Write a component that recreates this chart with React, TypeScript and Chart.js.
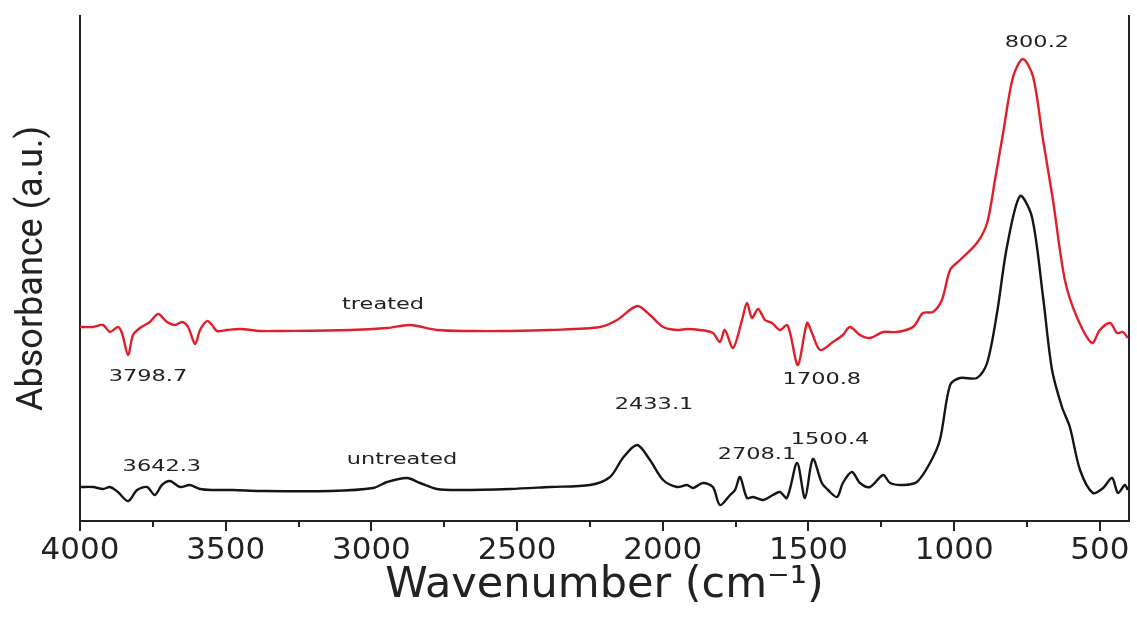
import React, { useEffect, useRef } from 'react';
import { Chart, registerables } from 'chart.js';

Chart.register(...registerables);

// Treated spectrum (red)
const treatedWavenumber = [
  4000, 3955, 3921, 3897, 3870, 3856, 3835, 3818, 3794, 3760, 3732, 3701, 3674, 3650, 3629, 3605, 3588, 3564,
  3547, 3530, 3496, 3451, 3382, 3314, 3073, 2946, 2867, 2775, 2662, 2524, 2387, 2215, 2157, 2088, 2044, 1999,
  1951, 1917, 1872, 1828, 1804, 1787, 1759, 1728, 1711, 1694, 1673, 1649, 1625, 1598, 1574, 1563, 1536, 1505,
  1488, 1460, 1416, 1382, 1358, 1323, 1289, 1244, 1196, 1141, 1107, 1073, 1042, 1014, 980, 922, 887, 860, 832,
  798, 764, 729, 695, 661, 620, 579, 527, 500, 465, 441, 421, 404,
];
const treatedAbsorbance = [
  0.388, 0.388, 0.392, 0.378, 0.388, 0.376, 0.332, 0.372, 0.386, 0.398, 0.414, 0.398, 0.392, 0.398, 0.388, 0.354, 0.382, 0.4,
  0.392, 0.38, 0.382, 0.384, 0.38, 0.38, 0.382, 0.386, 0.392, 0.382, 0.38, 0.38, 0.382, 0.388, 0.402, 0.43, 0.412, 0.388,
  0.382, 0.384, 0.382, 0.376, 0.358, 0.382, 0.346, 0.402, 0.436, 0.406, 0.424, 0.402, 0.396, 0.382, 0.392, 0.376, 0.312, 0.396,
  0.376, 0.342, 0.358, 0.372, 0.388, 0.372, 0.366, 0.378, 0.378, 0.388, 0.416, 0.418, 0.442, 0.502, 0.522, 0.556, 0.596, 0.682, 0.776,
  0.888, 0.924, 0.888, 0.762, 0.642, 0.482, 0.408, 0.356, 0.382, 0.396, 0.376, 0.378, 0.366,
];

// Untreated spectrum (black)
const untreatedWavenumber = [
  4000, 3955, 3921, 3897, 3870, 3835, 3804, 3770, 3743, 3719, 3691, 3657, 3623, 3588, 3544, 3475, 3382, 3140,
  2994, 2946, 2878, 2833, 2775, 2696, 2524, 2387, 2250, 2181, 2137, 2088, 2044, 1999, 1951, 1917, 1896, 1862,
  1828, 1804, 1769, 1752, 1735, 1711, 1690, 1656, 1622, 1598, 1574, 1539, 1512, 1485, 1454, 1433, 1402, 1382,
  1351, 1323, 1289, 1244, 1220, 1176, 1128, 1083, 1049, 1014, 980, 922, 887, 853, 819, 774, 733, 695, 664, 630,
  603, 568, 524, 489, 458, 438, 414, 404,
];
const untreatedAbsorbance = [
  0.068, 0.068, 0.064, 0.068, 0.058, 0.04, 0.062, 0.068, 0.052, 0.072, 0.08, 0.068, 0.072, 0.064, 0.062, 0.062, 0.06, 0.06,
  0.066, 0.078, 0.086, 0.076, 0.064, 0.062, 0.064, 0.068, 0.072, 0.088, 0.126, 0.152, 0.122, 0.082, 0.068, 0.072, 0.066, 0.076,
  0.068, 0.032, 0.052, 0.062, 0.088, 0.046, 0.048, 0.042, 0.052, 0.058, 0.046, 0.116, 0.046, 0.124, 0.076, 0.062, 0.048, 0.076,
  0.098, 0.076, 0.068, 0.092, 0.076, 0.072, 0.078, 0.116, 0.162, 0.272, 0.286, 0.286, 0.316, 0.416, 0.548, 0.65, 0.608, 0.448, 0.302, 0.228,
  0.188, 0.102, 0.056, 0.066, 0.086, 0.056, 0.072, 0.062,
];

// Axis ticks
const majorTicks = [4000, 3500, 3000, 2500, 2000, 1500, 1000, 500];
const minorTicks = [3750, 3250, 2750, 2250, 1750, 1250, 750];

// Peak annotations
const noteTexts = ['800.2', 'treated', '3798.7', '3642.3', 'untreated', '2433.1', '1700.8', '2708.1', '1500.4'];
const noteWavenumber = [716, 2960, 3767, 3719, 2895, 2030, 1454, 1677, 1426];
const noteAbsorbance = [0.956, 0.432, 0.288, 0.108, 0.122, 0.232, 0.282, 0.132, 0.162];

export default function App() {
  const ref = useRef<HTMLCanvasElement>(null);

  useEffect(() => {
    document.body.style.margin = '0';
    const canvas = ref.current;
    if (!canvas) return;

    const notesPlugin = {
      id: 'peakNotes',
      afterDatasetsDraw(chart: any) {
        const { ctx, scales } = chart;
        ctx.save();
        ctx.fillStyle = '#222';
        ctx.font = '16.5px "DejaVu Sans"';
        ctx.textAlign = 'center';
        ctx.textBaseline = 'middle';
        noteTexts.forEach((t, i) => {
          const px = scales.x.getPixelForValue(noteWavenumber[i]);
          const py = scales.y.getPixelForValue(noteAbsorbance[i]);
          ctx.save();
          ctx.translate(px, py);
          ctx.scale(1.36, 1);
          ctx.fillText(t, 0, 0);
          ctx.restore();
        });
        ctx.restore();
      },
    };

    const minorTickPlugin = {
      id: 'minorTicks',
      afterDraw(chart: any) {
        const { ctx, scales } = chart;
        const xs = scales.x;
        ctx.save();
        ctx.strokeStyle = '#222';
        ctx.lineWidth = 2;
        minorTicks.forEach((v) => {
          const px = Math.round(xs.getPixelForValue(v));
          ctx.beginPath();
          ctx.moveTo(px, xs.top);
          ctx.lineTo(px, xs.top + 6);
          ctx.stroke();
        });
        ctx.restore();
      },
    };

    const chart = new Chart(canvas, {
      type: 'line',
      data: {
        datasets: [
          {
            label: 'treated',
            data: treatedWavenumber.map((w, i) => ({ x: w, y: treatedAbsorbance[i] })),
            borderColor: '#e01f2a',
            borderWidth: 2.4,
            pointRadius: 0,
            tension: 0.3,
            fill: false,
          },
          {
            label: 'untreated',
            data: untreatedWavenumber.map((w, i) => ({ x: w, y: untreatedAbsorbance[i] })),
            borderColor: '#151515',
            borderWidth: 2.4,
            pointRadius: 0,
            tension: 0.3,
            fill: false,
          },
        ],
      },
      options: {
        responsive: false,
        animation: false,
        devicePixelRatio: 1,
        layout: { padding: { top: 16, right: 0, left: 0, bottom: 0 } },
        plugins: { legend: { display: false }, tooltip: { enabled: false } },
        scales: {
          x: {
            type: 'linear',
            position: 'bottom',
            reverse: true,
            min: 400,
            max: 4000,
            afterBuildTicks: (s: any) => {
              s.ticks = majorTicks.map((v) => ({ value: v }));
            },
            afterFit: (s: any) => {
              s.height = 98;
            },
            grid: { display: true, drawOnChartArea: false, drawTicks: true, tickLength: 10, color: '#222', lineWidth: 2 },
            border: { display: true, color: '#222', width: 2 },
            ticks: {
              font: { family: '"DejaVu Sans"', size: 31 },
              color: '#222',
              padding: 1,
              maxRotation: 0,
              autoSkip: false,
              callback: (v: any) => String(v),
            },
            title: {
              display: true,
              text: 'Wavenumber (cm⁻¹)',
              font: { family: '"DejaVu Sans"', size: 43, lineHeight: 1.2 },
              color: '#222',
              padding: { top: 0, bottom: 7 },
            },
          },
          y: {
            type: 'linear',
            position: 'left',
            min: 0,
            max: 1.01,
            afterFit: (s: any) => {
              s.width = 80;
            },
            grid: { display: false },
            ticks: { display: false },
            border: { display: true, color: '#222', width: 2 },
            title: {
              display: true,
              text: 'Absorbance (a.u.)',
              font: { family: 'Roboto', size: 36, lineHeight: 1.2 },
              color: '#222',
              padding: { top: 11, bottom: 0 },
            },
          },
          yRight: {
            type: 'linear',
            position: 'right',
            min: 0,
            max: 1.01,
            afterFit: (s: any) => {
              s.width = 8;
            },
            grid: { display: false },
            ticks: { display: false },
            border: { display: true, color: '#222', width: 2 },
          },
        },
      },
      plugins: [notesPlugin, minorTickPlugin],
    } as any);

    return () => chart.destroy();
  }, []);

  return (
    <div style={{ width: 1137, height: 619 }}>
      <canvas ref={ref} width={1137} height={619} style={{ display: 'block' }} />
    </div>
  );
}
